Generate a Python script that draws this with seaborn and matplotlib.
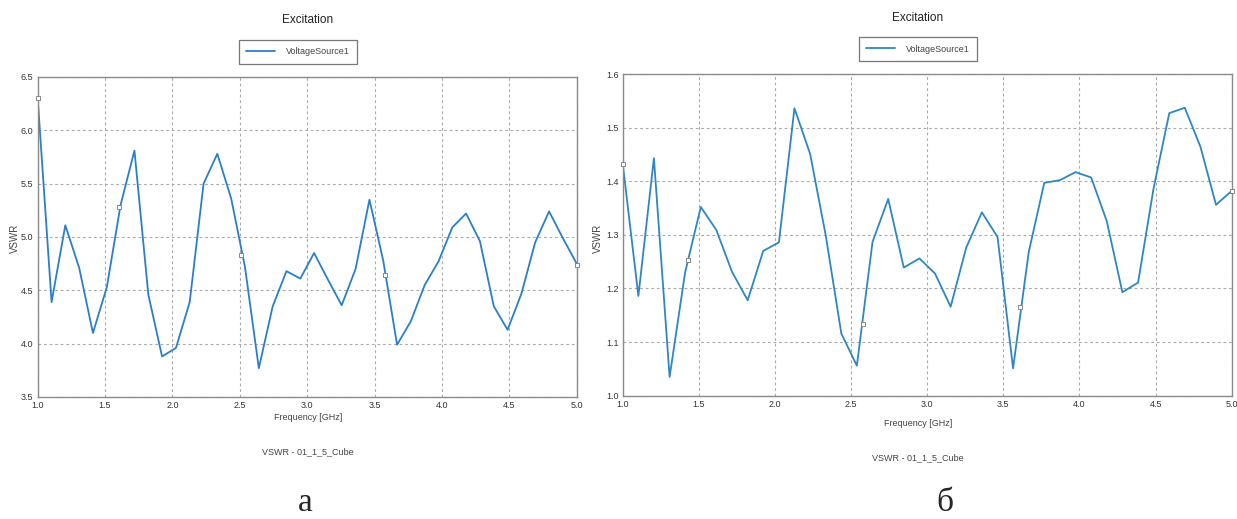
import numpy as np
import pandas as pd
import matplotlib
matplotlib.use('Agg')
import matplotlib.pyplot as plt
import seaborn as sns
from matplotlib.lines import Line2D

# frequency points (GHz), shared by both panels
freq = [1.000, 1.103, 1.205, 1.308, 1.410, 1.513, 1.615, 1.718, 1.821, 1.923,
        2.026, 2.128, 2.231, 2.333, 2.436, 2.538, 2.641, 2.744, 2.846, 2.949,
        3.051, 3.154, 3.256, 3.359, 3.462, 3.564, 3.667, 3.769, 3.872, 3.974,
        4.077, 4.179, 4.282, 4.385, 4.487, 4.590, 4.692, 4.795, 4.897, 5.000]

# panel a
vswr_a = [6.30, 4.39, 5.11, 4.71, 4.10, 4.53, 5.30, 5.81, 4.46, 3.88,
          3.96, 4.39, 5.50, 5.78, 5.36, 4.72, 3.77, 4.35, 4.68, 4.61,
          4.85, 4.60, 4.36, 4.70, 5.35, 4.78, 3.99, 4.21, 4.55, 4.77,
          5.09, 5.22, 4.96, 4.35, 4.13, 4.47, 4.95, 5.24, 4.99, 4.75]
mark_fa = [1.0, 1.605, 2.506, 3.578, 5.0]
mark_va = [6.30, 5.285, 4.83, 4.64, 4.74]

# panel б
vswr_b = [1.433, 1.186, 1.443, 1.035, 1.230, 1.352, 1.309, 1.231, 1.178, 1.270,
          1.286, 1.536, 1.451, 1.300, 1.116, 1.056, 1.287, 1.367, 1.239, 1.256,
          1.228, 1.166, 1.276, 1.342, 1.296, 1.051, 1.268, 1.397, 1.402, 1.417,
          1.407, 1.326, 1.193, 1.211, 1.387, 1.527, 1.537, 1.464, 1.356, 1.382]
mark_fb = [1.0, 1.429, 2.58, 3.609, 5.0]
mark_vb = [1.433, 1.254, 1.133, 1.166, 1.382]

xticks = [1.0, 1.5, 2.0, 2.5, 3.0, 3.5, 4.0, 4.5, 5.0]
yticks_a = [3.5, 4.0, 4.5, 5.0, 5.5, 6.0, 6.5]
yticks_b = [1.0, 1.1, 1.2, 1.3, 1.4, 1.5, 1.6]

sns.set_style('white')
plt.rcParams['font.family'] = ['Liberation Sans', 'DejaVu Sans']

W, H = 1237, 519
fig = plt.figure(figsize=(W / 100, H / 100), dpi=100)


def box(x0, y0, x1, y1):
    return [x0 / W, 1 - y1 / H, (x1 - x0) / W, (y1 - y0) / H]


panels = [
    dict(rect=box(37.7, 77, 576.7, 397), v=vswr_a, mf=mark_fa, mv=mark_va,
         yt=yticks_a, color='#2a7fc8', tx=308, ty=20, lx=298, ly=52,
         fx=308, fy=418, sy=452, lab='а', labx=305, ylx=15),
    dict(rect=box(622.7, 74, 1231.7, 395.7), v=vswr_b, mf=mark_fb, mv=mark_vb,
         yt=yticks_b, color='#2e87c2', tx=918, ty=18, lx=918, ly=49,
         fx=918, fy=424, sy=458, lab='б', labx=945, ylx=598),
]

for p in panels:
    ax = fig.add_axes(p['rect'])
    df = pd.DataFrame({'Frequency': freq, 'VSWR': p['v']})
    sns.lineplot(data=df, x='Frequency', y='VSWR', ax=ax, color=p['color'],
                 linewidth=1.3)
    sns.scatterplot(x=p['mf'], y=p['mv'], ax=ax, marker='s', s=9,
                    color='white', edgecolor='#888888', linewidth=0.7,
                    zorder=5, clip_on=False)
    ax.set_xlim(1.0, 5.0)
    ax.set_ylim(p['yt'][0], p['yt'][-1])
    ax.set_xticks(xticks)
    ax.set_yticks(p['yt'])
    ax.set_xticklabels(['%.1f' % t for t in xticks])
    ax.set_yticklabels(['%.1f' % t for t in p['yt']])
    ax.tick_params(length=0, labelsize=6.5, labelcolor='#333333', pad=3)
    ax.grid(True, color='#aaaaaa', linestyle=(0, (2.5, 2.5)), linewidth=0.8)
    for s in ax.spines.values():
        s.set_color('#8a8a8a')
        s.set_linewidth(1.0)
    ax.set_xlabel('')
    ax.set_ylabel('')

    fig.text(p['ylx'] / W, 1 - 238 / H, 'VSWR', rotation=90, ha='center',
             va='center', fontsize=7, color='#444444')
    fig.text(p['tx'] / W, 1 - p['ty'] / H, 'Excitation', ha='center',
             va='center', fontsize=8.5, color='#222222')
    fig.text(p['fx'] / W, 1 - p['fy'] / H, 'Frequency [GHz]', ha='center',
             va='center', fontsize=6.5, color='#444444')
    fig.text(p['fx'] / W, 1 - p['sy'] / H, 'VSWR - 01_1_5_Cube', ha='center',
             va='center', fontsize=6.5, color='#444444')
    fig.text(p['labx'] / W, 1 - 511 / H, p['lab'], ha='center', va='baseline',
             fontsize=24, family=['Liberation Serif', 'DejaVu Serif'])

    h = Line2D([], [], color=p['color'], linewidth=1.3)
    leg = fig.legend([h], ['VoltageSource1'], loc='center',
                     bbox_to_anchor=(p['lx'] / W, 1 - p['ly'] / H),
                     fontsize=6.5, frameon=True, fancybox=False,
                     handlelength=3.2, borderpad=0.8, handletextpad=1.2)
    leg.get_frame().set_edgecolor('#555555')
    leg.get_frame().set_linewidth(0.9)
    for t in leg.get_texts():
        t.set_color('#444444')

fig.savefig('out.png', dpi=100)
